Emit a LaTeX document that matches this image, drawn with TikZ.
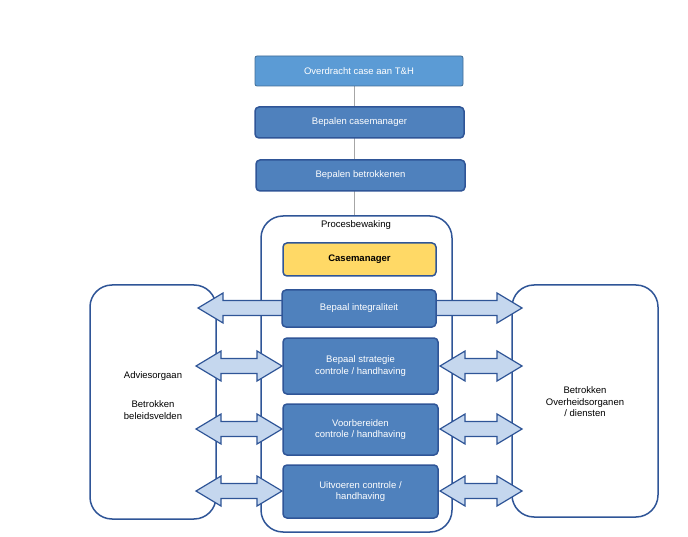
\documentclass[tikz,border=0pt]{standalone}
\usepackage{fontspec}
\setmainfont{Liberation Sans}
\definecolor{boxblue}{HTML}{4F81BD}
\definecolor{topblue}{HTML}{5B9BD5}
\definecolor{edge}{HTML}{2F5597}
\definecolor{arrfill}{HTML}{C5D7EE}
\definecolor{yel}{HTML}{FFD966}
\begin{document}
\begin{tikzpicture}[x=1pt,y=-1pt,font=\fontsize{9.5}{11.5}\selectfont,
  stepbox/.style={draw=edge,line width=1.5pt,fill=boxblue,rounded corners=4pt,text=white,align=center},
  big/.style={draw=edge,line width=1.5pt,rounded corners=22pt},
  arr/.style={draw=edge,line width=1.2pt,fill=arrfill,line join=miter}]
\useasboundingbox (0,0) rectangle (688,537);
% big frames
\draw[big] (90,285) rectangle (216,519);
\draw[big] (512,285) rectangle (658,517);
\draw[gray!70,line width=0.6pt] (354,86) -- (354,216);
\draw[big] (261,216) rectangle (452,532);
\node (pb) at (356,225) {Procesbewaking};
% left/right labels
\node[align=center] (adv) at (153,376) {Adviesorgaan};
\node[align=center] (bel) at (153,410) {Betrokken\\beleidsvelden};
\node[align=center] (ovh) at (585,402) {Betrokken\\Overheidsorganen\\/ diensten};
% top chain
\node[stepbox,draw=topblue!70!black,line width=0.8pt,fill=topblue,rounded corners=2pt,minimum width=208pt,minimum height=30pt] (ov) at (359,71) {Overdracht case aan T\&H};
\node[stepbox,minimum width=209pt,minimum height=31pt] (cm) at (359.5,122.5) {Bepalen casemanager};
\node[stepbox,minimum width=209pt,minimum height=31pt] (bb) at (360.5,175.5) {Bepalen betrokkenen};
% arrows
\newcommand\sarrL[3]{\draw[arr] (#1,#3-7.5) -- (#2+25,#3-7.5) -- (#2+25,#3-15) -- (#2,#3) -- (#2+25,#3+15) -- (#2+25,#3+7.5) -- (#1,#3+7.5) -- cycle;}
\newcommand\sarrR[3]{\draw[arr] (#1,#3-7.5) -- (#2-25,#3-7.5) -- (#2-25,#3-15) -- (#2,#3) -- (#2-25,#3+15) -- (#2-25,#3+7.5) -- (#1,#3+7.5) -- cycle;}
\newcommand\darr[3]{\draw[arr] (#1,#3) -- (#1+25,#3-15) -- (#1+25,#3-7.5) -- (#2-25,#3-7.5) -- (#2-25,#3-15) -- (#2,#3) -- (#2-25,#3+15) -- (#2-25,#3+7.5) -- (#1+25,#3+7.5) -- (#1+25,#3+15) -- cycle;}
\sarrL{284}{198}{308}
\sarrR{434}{522}{308}
\darr{196}{282}{366}
\darr{440}{522}{366}
\darr{196}{282}{429}
\darr{440}{522}{429}
\darr{196}{282}{491}
\darr{440}{522}{491}
% inner steps
\node[stepbox,fill=yel,text=black,font=\fontsize{9.5}{11.5}\selectfont\bfseries,minimum width=153pt,minimum height=33pt] (cmg) at (359.5,259.5) {Casemanager};
\node[stepbox,minimum width=154pt,minimum height=37pt] (bi) at (359,308.5) {Bepaal integraliteit};
\node[stepbox,minimum width=155pt,minimum height=56pt] (bs) at (360.5,366) {Bepaal strategie\\controle / handhaving};
\node[stepbox,minimum width=155pt,minimum height=51pt] (vb) at (360.5,429.5) {Voorbereiden\\controle / handhaving};
\node[stepbox,minimum width=155pt,minimum height=53pt] (uc) at (360.5,491.5) {Uitvoeren controle /\\handhaving};
\end{tikzpicture}
\end{document}
